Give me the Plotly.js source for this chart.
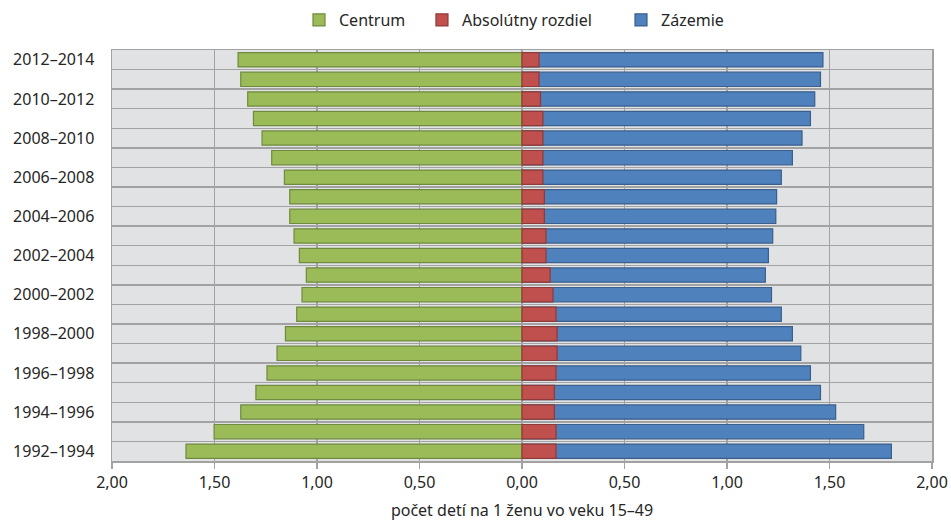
<!DOCTYPE html>
<html>
<head>
<meta charset="utf-8">
<script src="https://cdn.plot.ly/plotly-3.0.1.min.js"></script>
<style>html,body{margin:0;padding:0;background:#fff;}#chart{width:951px;height:521px;}</style>
</head>
<body>
<div id="chart"></div>
<script>
// categories, bottom to top
const periods = ["1992–1994","1993–1995","1994–1996","1995–1997","1996–1998","1997–1999","1998–2000","1999–2001","2000–2002","2001–2003","2002–2004","2003–2005","2004–2006","2005–2007","2006–2008","2007–2009","2008–2010","2009–2011","2010–2012","2011–2013","2012–2014"];
const periodLabels = ["1992–1994","","1994–1996","","1996–1998","","1998–2000","","2000–2002","","2002–2004","","2004–2006","","2006–2008","","2008–2010","","2010–2012","","2012–2014"];
// values (children per woman aged 15–49)
const centrum = [1.639,1.502,1.372,1.298,1.244,1.195,1.154,1.099,1.073,1.052,1.086,1.112,1.133,1.133,1.159,1.221,1.268,1.310,1.338,1.372,1.385];
const rozdiel = [0.166,0.166,0.158,0.158,0.166,0.171,0.171,0.166,0.151,0.137,0.117,0.117,0.109,0.109,0.102,0.102,0.102,0.102,0.090,0.083,0.083];
const zazemie = [1.802,1.667,1.530,1.456,1.407,1.360,1.319,1.265,1.217,1.187,1.202,1.223,1.238,1.242,1.265,1.319,1.366,1.407,1.428,1.456,1.468];
const xTickVals = [-2,-1.5,-1,-0.5,0,0.5,1,1.5,2];
const xTickText = ["2,00","1,50","1,00","0,50","0,00","0,50","1,00","1,50","2,00"];

const font = "Noto Sans, sans-serif";
const txt = "#262626";
const traces = [
  {type:"bar", orientation:"h", name:"Zázemie", y:periods, x:zazemie, legend:"legend3",
   marker:{color:"#4f81bd", line:{color:"#3a5f8c", width:1.2}}, hoverinfo:"skip"},
  {type:"bar", orientation:"h", name:"Centrum", y:periods, x:centrum.map(v=>-v), legend:"legend",
   marker:{color:"#9bbb59", line:{color:"#6f8a3e", width:1.2}}, hoverinfo:"skip"},
  {type:"bar", orientation:"h", name:"Absolútny rozdiel", y:periods, x:rozdiel, legend:"legend2",
   marker:{color:"#c0504d", line:{color:"#8f3a38", width:1.2}}, hoverinfo:"skip"}
];
const legBase = {orientation:"h", xref:"container", yref:"container", yanchor:"middle", y:0.9616, xanchor:"left",
                 font:{family:font, size:16, color:txt}, bgcolor:"rgba(0,0,0,0)", itemwidth:30};
const layout = {
  width:951, height:521,
  margin:{l:112, r:19, t:50, b:60, autoexpand:false},
  paper_bgcolor:"#ffffff", plot_bgcolor:"#e1e2e4",
  barmode:"overlay", bargap:0.27,
  font:{family:font, size:16, color:txt},
  showlegend:true,
  legend:Object.assign({}, legBase, {x:0.3144}),
  legend2:Object.assign({}, legBase, {x:0.4437}),
  legend3:Object.assign({}, legBase, {x:0.653}),
  xaxis:{range:[-2,2], tickmode:"array", tickvals:xTickVals, ticktext:xTickText,
         showgrid:true, gridcolor:"#a2a2a2", gridwidth:1.5,
         zeroline:true, zerolinecolor:"#a2a2a2", zerolinewidth:1.5,
         ticks:"outside", ticklen:6, tickcolor:"#a2a2a2", tickwidth:1.5,
         showline:true, linecolor:"#a2a2a2", linewidth:1.5, mirror:true,
         title:{text:"počet detí na 1 ženu vo veku 15–49", font:{family:font, size:16, color:txt}, standoff:14},
         tickfont:{family:font, size:16, color:txt}, fixedrange:true},
  yaxis:{type:"category", range:[-0.5, 20.5], tickmode:"array", tickvals:periods, ticktext:periodLabels,
         tickson:"boundaries", showgrid:true, gridcolor:"#a2a2a2", gridwidth:1.5,
         ticks:"", showline:true, linecolor:"#a2a2a2", linewidth:1.5, mirror:true,
         tickfont:{family:font, size:16, color:txt}, ticklabelstandoff:13, fixedrange:true}
};
Plotly.newPlot("chart", traces, layout, {displayModeBar:false, staticPlot:true});
</script>
</body>
</html>
